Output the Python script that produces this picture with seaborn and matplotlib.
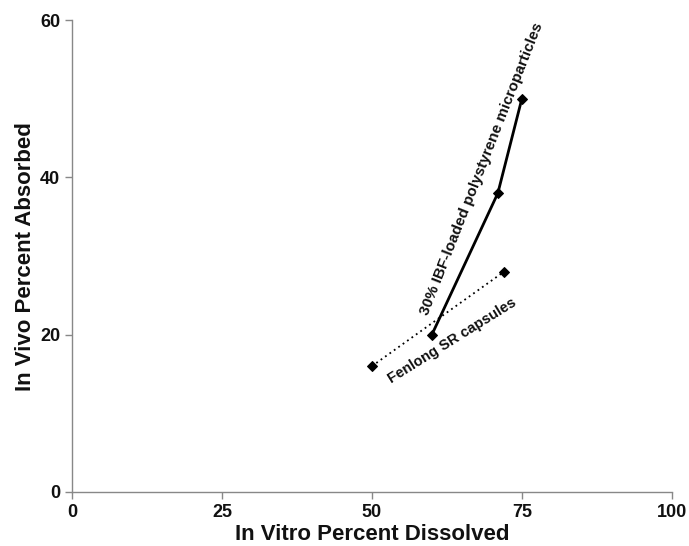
import pandas as pd
import seaborn as sns
import matplotlib.pyplot as plt

# 30% IBF-loaded polystyrene microparticles
micro_x = [60, 71, 75]
micro_y = [20, 38, 50]
# Fenlong SR capsules
caps_x = [50, 72]
caps_y = [16, 28]

x_ticks = [0, 25, 50, 75, 100]
y_ticks = [0, 20, 40, 60]

sns.set_style("ticks")
plt.rcParams['font.family'] = ['Liberation Sans', 'DejaVu Sans']
plt.rcParams['font.weight'] = 'bold'

df_micro = pd.DataFrame({"x": micro_x, "y": micro_y})
df_caps = pd.DataFrame({"x": caps_x, "y": caps_y})

fig = plt.figure(figsize=(6.89, 5.46), dpi=100)
ax = fig.add_axes([0.1045, 0.099, 0.8705, 0.864])

sns.lineplot(data=df_micro, x="x", y="y", ax=ax, color="black", lw=2,
             marker="D", markersize=5, markeredgecolor="black")
sns.lineplot(data=df_caps, x="x", y="y", ax=ax, color="black", lw=1.3,
             linestyle=(0, (1, 2)), marker="D", markersize=5, markeredgecolor="black")

ax.text(59.4, 22.4, "30% IBF-loaded polystyrene microparticles", rotation=68.5,
        rotation_mode="anchor", ha="left", va="baseline", fontsize=11, fontweight="bold",
        color="#111111")
ax.text(53.2, 13.8, "Fenlong SR capsules", rotation=32,
        rotation_mode="anchor", ha="left", va="baseline", fontsize=10.5, fontweight="bold",
        color="#111111")

ax.set_xlim(0, 100)
ax.set_ylim(0, 60)
ax.set_xticks(x_ticks)
ax.set_yticks(y_ticks)
ax.set_xlabel("In Vitro Percent Dissolved", fontsize=16, fontweight="bold", labelpad=2,
              color="#111111")
ax.set_ylabel("In Vivo Percent Absorbed", fontsize=16, fontweight="bold", labelpad=3,
              color="#111111")
ax.tick_params(labelsize=13, color="#888888", labelcolor="#111111", length=5, width=1)
for lab in ax.get_xticklabels() + ax.get_yticklabels():
    lab.set_fontweight("bold")
for side in ["left", "bottom"]:
    ax.spines[side].set_color("#888888")
    ax.spines[side].set_linewidth(1)
sns.despine(ax=ax)

plt.savefig("out.png", dpi=100)
